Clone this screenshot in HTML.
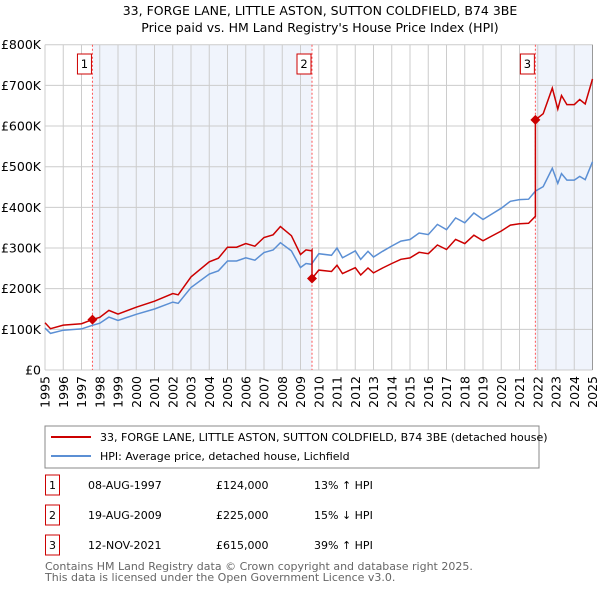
<!DOCTYPE html>
<html><head><meta charset="utf-8">
<style>
body{margin:0;background:#fff;font-family:"Liberation Sans","DejaVu Sans",sans-serif;}
#wrap{position:relative;width:600px;height:590px;overflow:hidden;}
svg text{font-family:"DejaVu Sans","Liberation Sans",sans-serif;}
</style></head><body>
<div id="wrap">
<svg id="chart" width="600" height="590">
<text x="320" y="15" text-anchor="middle" font-size="12.5">33, FORGE LANE, LITTLE ASTON, SUTTON COLDFIELD, B74 3BE</text>
<text x="320" y="32" text-anchor="middle" font-size="12.5">Price paid vs. HM Land Registry's House Price Index (HPI)</text>
<g id="plot"></g>
<rect x="45" y="426" width="494" height="42" fill="#fff" stroke="#888"/>
<line x1="51" y1="437" x2="91" y2="437" stroke="#cc0000" stroke-width="2"/>
<text x="100" y="441" font-size="11">33, FORGE LANE, LITTLE ASTON, SUTTON COLDFIELD, B74 3BE (detached house)</text>
<line x1="51" y1="456" x2="91" y2="456" stroke="#5b8fd4" stroke-width="2"/>
<text x="100" y="460" font-size="11">HPI: Average price, detached house, Lichfield</text>
<g id="table" font-size="11"></g>
<text x="45" y="570" font-size="11" fill="#666">Contains HM Land Registry data © Crown copyright and database right 2025.</text>
<text x="45" y="581" font-size="11" fill="#666">This data is licensed under the Open Government Licence v3.0.</text>
</svg>
</div>
<script>
const hpiYears=[1995,1995.3,1996,1997,1997.6,1998,1998.5,1999,2000,2001,2002,2002.3,2003,2004,2004.5,2005,2005.5,2006,2006.5,2007,2007.5,2007.9,2008.5,2009.0,2009.3,2009.6,2010,2010.7,2011,2011.3,2012,2012.3,2012.7,2013,2013.5,2014,2014.5,2015,2015.5,2016,2016.5,2017,2017.5,2018,2018.5,2019,2019.5,2020,2020.5,2021,2021.5,2021.87,2022.3,2022.8,2023.1,2023.3,2023.6,2024,2024.3,2024.6,2025];
const hpiValues=[103,90,98,101,110,115,130,122,137,150,167,164,203,236,244,268,268,276,270,289,295,313,293,252,262,260,286,282,300,276,293,272,292,278,292,305,317,321,337,333,358,345,374,362,386,370,384,398,415,419,420,440,451,496,459,483,467,467,476,468,512];
const saleYears=[1997.6,2009.63,2021.87];
const salePrices=[124,225,615];
const saleLabels=["1","2","3"];
const saleDates=["08-AUG-1997","19-AUG-2009","12-NOV-2021"];
const salePriceText=["£124,000","£225,000","£615,000"];
const saleHpiText=["13% ↑ HPI","15% ↓ HPI","39% ↑ HPI"];
const yTicks=[0,100,200,300,400,500,600,700,800];
const yTickLabels=["£0","£100K","£200K","£300K","£400K","£500K","£600K","£700K","£800K"];

const X0=45,X1=592.5,Y0=370,Y1=44.7;
const sx=y=>X0+(y-1995)/30*(X1-X0);
const sy=v=>Y0-v/800*(Y0-Y1);
const NS="http://www.w3.org/2000/svg";
const plot=document.getElementById('plot');
function mk(tag,attrs,parent){const e=document.createElementNS(NS,tag);for(const k in attrs)e.setAttribute(k,attrs[k]);(parent||plot).appendChild(e);return e;}

let r=mk('rect',{x:sx(saleYears[0]),y:Y1,width:sx(saleYears[1])-sx(saleYears[0]),height:Y0-Y1,fill:'#f0f4fc'});


r=mk('rect',{x:sx(saleYears[2]),y:Y1,width:X1-sx(saleYears[2]),height:Y0-Y1,fill:'#f0f4fc'});



for(let y=1995;y<=2025;y++){
  const l=mk('line',{x1:sx(y),x2:sx(y),y1:Y1,y2:Y0,stroke:'#ccc','stroke-width':1});
  
  
  const t=mk('text',{x:0,y:0,'font-size':12.5,'text-anchor':'end',transform:`translate(${sx(y)+4.5},${Y0+6}) rotate(-90)`});
  t.textContent=y;
  
  
}
yTicks.forEach((v,i)=>{
  const l=mk('line',{x1:X0,x2:X1,y1:sy(v),y2:sy(v),stroke:'#ccc','stroke-width':1});
  
  
  const t=mk('text',{x:X0-4,y:sy(v)+4.5,'font-size':12.5,'text-anchor':'end'});
  t.textContent=yTickLabels[i];
  
  
});
let ax=mk('line',{x1:X1,x2:X1,y1:Y1,y2:Y0,stroke:'#999','stroke-width':1});



saleYears.forEach((y,i)=>{
  const l=mk('line',{x1:sx(y),x2:sx(y),y1:Y1,y2:Y0,stroke:'#ff5555','stroke-width':1,'stroke-dasharray':'2,2'});
  
  
  const b=mk('rect',{x:sx(y)-15,y:54,width:14,height:20,fill:'#fff',stroke:'#cc0000'});
  
  
  const t=mk('text',{x:sx(y)-8,y:68,'font-size':11.5,'text-anchor':'middle'});
  t.textContent=saleLabels[i];
  
  
});

function hpiAt(y){for(let i=0;i<hpiYears.length-1;i++){if(y<=hpiYears[i+1]){const f=(y-hpiYears[i])/(hpiYears[i+1]-hpiYears[i]);return hpiValues[i]+f*(hpiValues[i+1]-hpiValues[i]);}}return hpiValues[hpiValues.length-1];}
let hp=hpiYears.map((y,i)=>`${sx(y).toFixed(1)},${sy(hpiValues[i]).toFixed(1)}`).join(' ');
let hl=mk('polyline',{points:hp,fill:'none',stroke:'#5b8fd4','stroke-width':1.5});


let pts=[];
function factorFor(y){let k=0;for(let i=0;i<saleYears.length;i++)if(y>=saleYears[i])k=i;return salePrices[k]/hpiAt(saleYears[k]);}
let ys=[...hpiYears];
saleYears.forEach(s=>{ys.push(s-0.001);ys.push(s);});
ys.sort((a,b)=>a-b);
ys.forEach(y=>pts.push(`${sx(y).toFixed(1)},${sy(hpiAt(y)*factorFor(y)).toFixed(1)}`));
let pl=mk('polyline',{points:pts.join(' '),fill:'none',stroke:'#cc0000','stroke-width':1.5});


saleYears.forEach((y,i)=>{
  const d=mk('path',{d:`M${sx(y)},${sy(salePrices[i])-5}l5,5l-5,5l-5,-5z`,fill:'#cc0000'});
  
  
});

const tb=document.getElementById('table');
saleYears.forEach((y,i)=>{
  const cy=485+i*30;
  const b=mk('rect',{x:45.5,y:cy-10,width:14,height:20,fill:'#fff',stroke:'#cc0000'},tb);
  
  
  const cols=[[52.5,saleLabels[i],'middle'],[88,saleDates[i],'start'],[216,salePriceText[i],'start'],[314,saleHpiText[i],'start']];
  cols.forEach((c,j)=>{
    const t=mk('text',{x:c[0],y:cy+4,'text-anchor':c[2]},tb);
    t.textContent=c[1];
    
    
  });
});
</script>
</body></html>
